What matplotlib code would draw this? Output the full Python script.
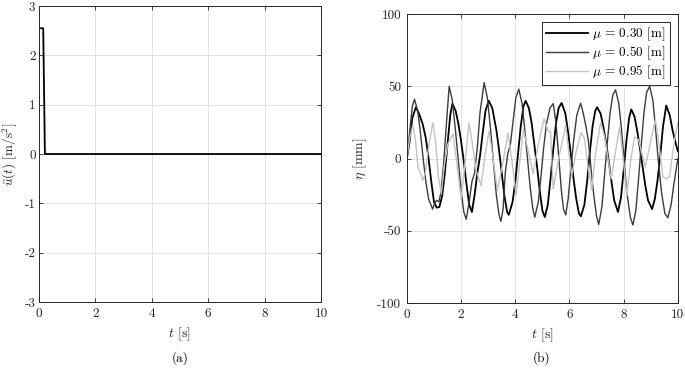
import numpy as np
import matplotlib
matplotlib.use("Agg")
import matplotlib.pyplot as plt
from matplotlib.ticker import FixedLocator, FuncFormatter

plt.rcParams['font.family'] = ['cmr10', 'DejaVu Serif']
plt.rcParams['mathtext.fontset'] = 'cm'
plt.rcParams['axes.unicode_minus'] = False
plt.rcParams['axes.formatter.use_mathtext'] = False

# (a) base acceleration pulse
t_acc = [0.0, 0.15, 0.21, 10.0]
u_acc = [2.55, 2.55, 0.0, 0.0]

# (b) free surface elevation for three mu values
t_030 = [0, 0.1, 0.2, 0.33, 0.45, 0.58, 0.7, 0.8, 0.9, 1.0, 1.1, 1.2, 1.3, 1.4, 1.5,
         1.6, 1.68, 1.8, 1.9, 2.0, 2.1, 2.2, 2.3, 2.4, 2.5, 2.6, 2.7, 2.8, 2.9, 3.02,
         3.15, 3.3, 3.4, 3.5, 3.6, 3.7, 3.76, 3.9, 4.0, 4.1, 4.2, 4.3, 4.38, 4.5, 4.6,
         4.7, 4.8, 4.9, 5.0, 5.09, 5.2, 5.3, 5.4, 5.5, 5.6, 5.71, 5.85, 5.95, 6.05,
         6.15, 6.25, 6.35, 6.42, 6.55, 6.65, 6.75, 6.85, 6.95, 7.02, 7.15, 7.25, 7.35,
         7.45, 7.55, 7.65, 7.79, 7.9, 8.0, 8.1, 8.2, 8.28, 8.4, 8.5, 8.6, 8.7, 8.8,
         8.9, 9.05, 9.15, 9.25, 9.35, 9.45, 9.57, 9.7, 9.8, 9.9, 10.0]
eta_030 = [0, 12, 28, 35.5, 31, 24, 14, 0, -16, -30, -34, -33.5, -26, -10, 10,
           30, 38, 33, 24, 12, -2, -18, -32, -37, -25, -10, 2, 18, 33, 40,
           35, 20, 6, -10, -26, -37, -39, -30, -16, 3, 22, 36, 40, 35, 25,
           10, -5, -22, -36, -40.5, -32, -14, 6, 24, 35, 38.5, 31, 18, 3,
           -14, -28, -38, -40, -32, -16, 4, 22, 33, 35.5, 31, 22, 11,
           -2, -16, -29, -37, -27, -8, 12, 28, 34, 29, 19, 7, -6, -19,
           -29, -35, -28, -15, 2, 22, 36.7, 30, 20, 12, 5]

t_050 = [0, 0.1, 0.2, 0.28, 0.4, 0.5, 0.6, 0.7, 0.8, 0.95, 1.02, 1.1, 1.18, 1.25,
         1.35, 1.45, 1.56, 1.68, 1.8, 1.9, 2.0, 2.1, 2.19, 2.3, 2.4, 2.5, 2.6, 2.7,
         2.85, 2.97, 3.1, 3.2, 3.3, 3.4, 3.47, 3.55, 3.63, 3.72, 3.82, 3.92, 4.02,
         4.13, 4.25, 4.35, 4.45, 4.55, 4.65, 4.72, 4.85, 4.95, 5.05, 5.15, 5.28, 5.4,
         5.5, 5.6, 5.7, 5.78, 5.86, 5.95, 6.05, 6.15, 6.27, 6.41, 6.5, 6.6, 6.7, 6.8,
         6.9, 7.0, 7.08, 7.2, 7.3, 7.4, 7.5, 7.6, 7.7, 7.82, 7.92, 8.02, 8.12, 8.25,
         8.34, 8.45, 8.55, 8.65, 8.75, 8.85, 8.96, 9.08, 9.18, 9.28, 9.4, 9.52, 9.63,
         9.75, 9.85, 10.0]
eta_050 = [0, 18, 36, 41, 33, 18, 0, -16, -28, -35, -31, -29, -30, -24,
           -5, 22, 50, 40, 18, -2, -22, -37, -42, -30, -16, -10, 8, 32,
           52.5, 42, 18, -4, -25, -39, -43.5, -35, -10, 3, 10, 26, 42,
           48, 38, 20, 0, -20, -35, -40.6, -30, -12, 8, 24, 35, 38,
           25, 2, -22, -35, -39, -28, -8, 12, 30, 38.3, 32, 23, 12, -8,
           -26, -40, -45.7, -33, -10, 12, 32, 44, 47.6, 38, 20, -2, -24, -41,
           -46, -36, -14, 10, 32, 46, 50, 40, 20, -2, -24, -38, -41,
           -32, -18, 0]

t_095 = [0, 0.1, 0.22, 0.32, 0.41, 0.5, 0.59, 0.68, 0.8, 0.96, 1.06, 1.16, 1.27,
         1.38, 1.51, 1.7, 1.82, 2.0, 2.12, 2.29, 2.42, 2.55, 2.74, 2.88, 3.03, 3.18,
         3.34, 3.52, 3.73, 3.88, 4.03, 4.18, 4.3, 4.48, 4.66, 4.85, 5.06, 5.2, 5.3,
         5.4, 5.6, 5.86, 5.97, 6.08, 6.25, 6.43, 6.55, 6.68, 6.82, 6.97, 7.15, 7.3,
         7.42, 7.54, 7.7, 7.85, 7.98, 8.12, 8.27, 8.4, 8.55, 8.65, 8.8, 8.97, 9.17,
         9.3, 9.45, 9.6, 9.7, 9.85, 10.0]
eta_095 = [0, 14, 23, 12, -6, -10, -15, -10, 8, 25, 12, -12, -24.5,
           -5, 10, 17, 0, -28, -8, 24.7, 10, -8, -18.7, 2, 19, 0,
           -22, -5, 17.5, -2, -25.6, 0, 20, 5, -10.6, 10, 27.4, 20, 18,
           -21, 0, 23, 5, -11.8, 5, 18, 14, -5, -21.5, 5, 25, 15,
           0, -14, 5, 22, 0, -25.6, 0, 15, 13, 5, -6, 10, 27,
           10, -13, -14, -12, 10, 25]

labels = [r'$\mu$ = 0.30 [m]', r'$\mu$ = 0.50 [m]', r'$\mu$ = 0.95 [m]']
colors = ['#000000', '#3c3c3c', '#c4c4c4']

dark = '#262626'
fig = plt.figure(figsize=(6.85, 3.69), dpi=100)
ax1 = fig.add_axes([0.0569, 0.1816, 0.4117, 0.802])
ax2 = fig.add_axes([0.594, 0.1789, 0.3956, 0.783])

fmt = FuncFormatter(lambda v, p: '%g' % v)


def style(ax):
    ax.grid(True, color='#e3e3e3', linewidth=0.7)
    ax.set_axisbelow(True)
    ax.tick_params(direction='in', top=True, right=True, length=3,
                   width=0.6, colors=dark, labelsize=9.5, pad=4)
    for s in ax.spines.values():
        s.set_color(dark)
        s.set_linewidth(0.7)
    ax.xaxis.set_major_formatter(fmt)
    ax.yaxis.set_major_formatter(fmt)


ax1.plot(t_acc, u_acc, color='k', linewidth=1.3)
ax1.set_xlim(0, 10)
ax1.set_ylim(-3, 3)
ax1.xaxis.set_major_locator(FixedLocator(np.arange(0, 11, 2)))
ax1.yaxis.set_major_locator(FixedLocator(np.arange(-3, 4, 1)))
ax1.set_xlabel(r'$t$ [s]', fontsize=10, color=dark)
ax1.set_ylabel(r'$\ddot{u}(t)$ [m/s$^2$]', fontsize=9.5, color=dark)
style(ax1)
ax1.tick_params(axis='y', pad=2.5)
ax1.yaxis.set_label_coords(-0.07, 0.5)

ax2.plot(t_030, eta_030, color=colors[0], linewidth=1.3, label=labels[0])
ax2.plot(t_050, eta_050, color=colors[1], linewidth=1.0, label=labels[1])
ax2.plot(t_095, eta_095, color=colors[2], linewidth=1.0, label=labels[2])
ax2.set_xlim(0, 10)
ax2.set_ylim(-100, 100)
ax2.xaxis.set_major_locator(FixedLocator(np.arange(0, 11, 2)))
ax2.yaxis.set_major_locator(FixedLocator(np.arange(-100, 101, 50)))
ax2.set_xlabel(r'$t$ [s]', fontsize=10, color=dark)
ax2.set_ylabel(r'$\eta$ [mm]', fontsize=10, color=dark)
style(ax2)
ax2.yaxis.set_label_coords(-0.14, 0.5)
leg = ax2.legend(loc='upper right', fontsize=9.5, fancybox=False, framealpha=1,
                 edgecolor=dark, handlelength=3.2, borderaxespad=0.6,
                 labelspacing=0.1, borderpad=0.3, handletextpad=0.3)
leg.get_frame().set_linewidth(0.7)

fig.text(180 / 685, 1 - 358 / 369, '(a)', ha='center', va='center', fontsize=9.5)
fig.text(542 / 685, 1 - 358 / 369, '(b)', ha='center', va='center', fontsize=9.5)

fig.savefig('out.png', dpi=100)
